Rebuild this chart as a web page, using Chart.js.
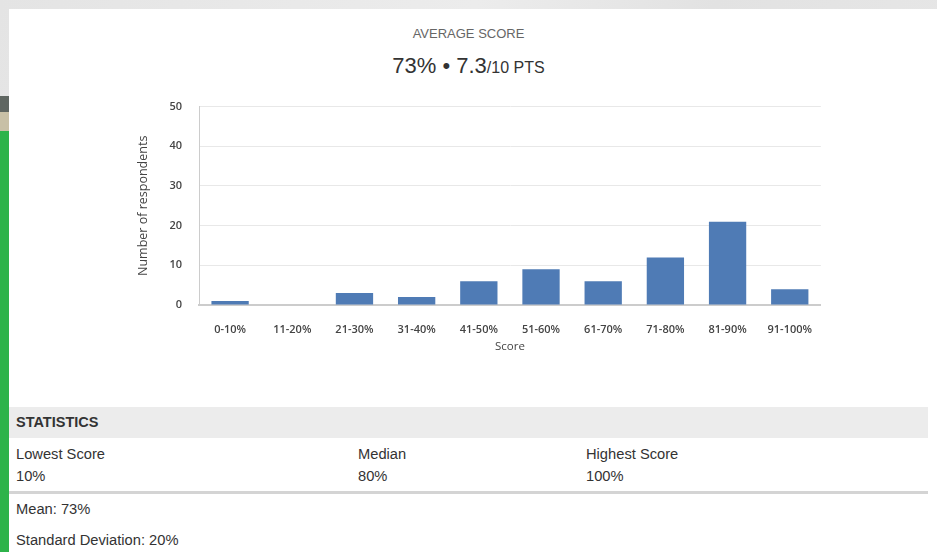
<!DOCTYPE html>
<html>
<head>
<meta charset="utf-8">
<script src="https://cdn.jsdelivr.net/npm/chart.js@4"></script>
<style>
  html, body { margin: 0; padding: 0; }
  body {
    width: 937px; height: 552px; overflow: hidden; position: relative;
    background: linear-gradient(115deg, #e4e4e4 0%, #ececec 40%, #e2e2e2 60%, #eaeaea 100%);
    font-family: "Liberation Sans", Arial, sans-serif;
  }
  .stripe { position: absolute; left: 0; width: 9px; }
  .panel { position: absolute; left: 9px; top: 9px; right: 0; bottom: 0; background: #fff; }
  .head1 { position: absolute; left: 0; width: 937px; top: 26px; text-align: center; font-size: 13px; color: #666; }
  .head2 { position: absolute; left: 0; width: 937px; top: 53px; text-align: center; font-size: 22px; color: #333; }
  .head2 small { font-size: 16px; }
  #wrap { position: absolute; left: 120px; top: 83px; width: 702px; height: 277px; }
  .stats { position: absolute; left: 9px; width: 919px; font-family: "Liberation Sans Narrow", "Liberation Sans", sans-serif; font-size: 14.7px; color: #333; }
  .band { top: 407px; height: 31px; background: #ececec; }
  .band span { position: absolute; left: 7px; top: 7px; font-weight: bold; font-size: 14.5px; }
  .t { position: absolute; }
  .rule { top: 491px; height: 3px; background: #d4d4d4; }
</style>
</head>
<body>
<div class="stripe" style="top:96px;height:16px;background:#5f6661"></div>
<div class="stripe" style="top:112px;height:19px;background:#c8c0a6"></div>
<div class="stripe" style="top:131px;bottom:0;background:#2db34a"></div>
<div class="panel"></div>
<div class="head1">AVERAGE SCORE</div>
<div class="head2">73% • 7.3<small>/10 PTS</small></div>
<div id="wrap"><canvas id="scoreChart"></canvas></div>

<div class="stats band"><span>STATISTICS</span></div>
<div class="stats t" style="top:446px;left:16px">Lowest Score</div>
<div class="stats t" style="top:446px;left:358px">Median</div>
<div class="stats t" style="top:446px;left:586px">Highest Score</div>
<div class="stats t" style="top:468px;left:16px">10%</div>
<div class="stats t" style="top:468px;left:358px">80%</div>
<div class="stats t" style="top:468px;left:586px">100%</div>
<div class="stats rule"></div>
<div class="stats t" style="top:501px;left:16px">Mean: 73%</div>
<div class="stats t" style="top:532px;left:16px">Standard Deviation: 20%</div>

<script>
const scoreLabels = ['0-10%', '11-20%', '21-30%', '31-40%', '41-50%', '51-60%', '61-70%', '71-80%', '81-90%', '91-100%'];
const respondents = [1, 0, 3, 2, 6, 9, 6, 12, 21, 4];
const yTicks = [0, 10, 20, 30, 40, 50];

document.addEventListener('DOMContentLoaded', function () {
    const tickColor = '#444';
    const tickFont = { family: 'Open Sans', size: 11, weight: '600' };

    new Chart(document.getElementById('scoreChart'), {
        type: 'bar',
        data: {
            labels: scoreLabels,
            datasets: [{
                label: 'Respondents',
                data: respondents,
                backgroundColor: '#4f7bb5',
                barPercentage: 0.6,
                categoryPercentage: 1
            }]
        },
        options: {
            responsive: true,
            maintainAspectRatio: false,
            animation: false,
            layout: { padding: { top: 11, right: 0, bottom: 0, left: 0 } },
            plugins: {
                legend: { display: false },
                tooltip: { enabled: false }
            },
            scales: {
                x: {
                    grid: { display: false },
                    border: { color: '#cccccc', width: 2 },
                    ticks: { color: tickColor, font: tickFont, padding: 10, maxRotation: 0, autoSkip: false },
                    title: { display: true, text: 'Score', color: '#444', font: { family: 'Open Sans', size: 11.5 }, padding: { top: 0, bottom: 6 } },
                    afterFit: (scale) => { scale.height = 55; }
                },
                y: {
                    min: 0,
                    max: 50,
                    afterBuildTicks: (scale) => { scale.ticks = yTicks.map(v => ({ value: v })); },
                    grid: { color: '#e8e8e8', drawTicks: false },
                    border: { color: '#cccccc' },
                    ticks: { color: tickColor, font: tickFont, padding: 17 },
                    title: { display: true, text: 'Number of respondents', color: '#444', font: { family: 'Open Sans', size: 12.5 }, padding: { top: 16, bottom: 0 } },
                    afterFit: (scale) => { scale.width = 79; }
                }
            }
        }
    });
});
</script>
</body>
</html>
